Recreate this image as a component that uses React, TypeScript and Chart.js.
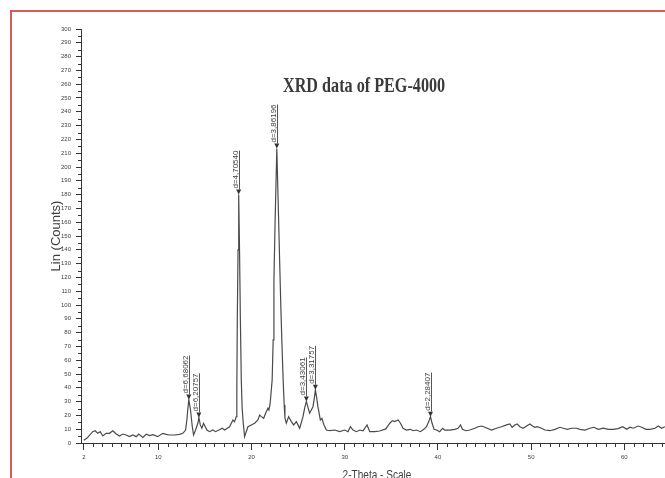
import React, { useEffect, useRef } from "react";
import { Chart, registerables } from "chart.js";

Chart.register(...registerables);

// ---- data ----
const twoTheta: number[] = [
  2.0, 2.32, 2.96, 3.22, 3.5, 3.76, 4.04, 4.4, 4.76, 5.11, 5.48, 5.83, 6.19, 6.55, 6.9, 7.26, 7.62, 7.9, 8.33, 8.7,
  9.05, 9.41, 9.94, 10.48, 10.84, 11.2, 11.73, 12.27, 12.63, 12.92, 13.06, 13.16, 13.27, 13.45, 13.64, 13.78, 13.99,
  14.24, 14.35, 14.5, 14.67, 14.85, 15.03, 15.21, 15.5, 15.85, 16.14, 16.49, 16.86, 17.11, 17.64, 18.0, 18.18, 18.36,
  18.42, 18.47, 18.55, 18.62, 18.71, 18.8, 18.9, 18.99, 19.1, 19.25, 19.43, 19.61, 19.97, 20.33, 20.68, 20.87, 21.05,
  21.3, 21.51, 21.76, 21.86, 21.99, 22.21, 22.32, 22.4, 22.53, 22.71, 22.85, 23.01, 23.15, 23.28, 23.39, 23.5, 23.58,
  23.73, 23.98, 24.27, 24.52, 24.81, 25.16, 25.52, 25.7, 25.88, 26.07, 26.23, 26.59, 26.74, 26.85, 26.99, 27.12, 27.38,
  27.55, 27.77, 28.03, 28.38, 28.92, 29.46, 29.99, 30.35, 30.61, 30.89, 31.25, 31.61, 31.96, 32.39, 32.68, 33.22, 33.75,
  34.4, 34.83, 35.12, 35.36, 35.72, 35.98, 36.25, 36.62, 37.05, 37.33, 37.69, 38.12, 38.48, 38.77, 39.01, 39.2, 39.37,
  39.58, 39.84, 40.19, 40.49, 40.73, 41.27, 41.81, 42.16, 42.42, 42.63, 42.99, 43.42, 43.95, 44.31, 44.67, 45.03, 45.75,
  46.29, 46.82, 47.36, 47.71, 47.96, 48.25, 48.5, 48.79, 49.14, 49.51, 49.86, 50.15, 50.4, 50.64, 51.12, 51.47, 52.01,
  52.55, 53.08, 53.44, 53.87, 54.34, 54.88, 55.23, 55.77, 56.3, 56.73, 57.2, 57.73, 58.27, 58.81, 59.34, 59.82, 60.25,
  60.6, 60.96, 61.49, 61.86, 62.32, 62.75, 63.29, 63.64, 64.0, 64.36,
];
const counts: number[] = [
  2.0, 3.4, 8.2, 8.9, 7.0, 8.2, 5.1, 7.0, 7.0, 8.9, 6.5, 5.1, 6.5, 5.8, 4.6, 5.8, 4.6, 6.5, 4.1, 6.3,
  5.4, 6.0, 4.6, 7.0, 6.3, 5.8, 5.8, 6.3, 7.0, 9.4, 16.7, 24.5, 31.5, 23.9, 11.8, 5.8, 9.4,
  14.3, 18.5, 13.1, 10.7, 14.3, 11.8, 9.4, 8.2, 9.4, 8.2, 9.4, 10.7, 9.4, 11.8, 16.7, 15.5, 19.1,
  38.5, 89.3, 140, 180, 140, 89.3, 45.7, 25.4, 15.2, 4.6, 8.2, 11.8, 13.1, 14.3, 16.7, 20.3, 19.1,
  17.9, 21.6, 25.2, 23.9, 28.3, 45.7, 74.7, 118.3, 161.8, 213.4, 176.3, 132.8, 96.5, 67.5, 45.7, 27.6, 18.1,
  14.3, 19.1, 15.5, 13.1, 15.5, 10.7, 19.1, 25.4, 30.1, 25.4, 21.6, 26.3, 32.7, 38.5, 32.7, 26.3, 16.7,
  17.9, 13.1, 9.4, 8.9, 9.4, 8.2, 9.4, 8.2, 11.8, 9.4, 8.2, 9.4, 8.9, 13.1, 8.2, 8.2, 8.7,
  10.2, 14.3, 16.2, 15.5, 16.7, 14.3, 10.7, 9.4, 9.9, 8.9, 9.4, 8.2, 9.9, 11.8, 15.5, 19.1, 14.3,
  9.9, 9.4, 8.2, 10.7, 9.4, 9.4, 9.9, 10.7, 13.1, 9.9, 8.9, 9.4, 10.7, 11.8, 12.3, 11.4, 9.4,
  10.7, 11.8, 13.1, 13.8, 11.4, 13.1, 13.8, 11.8, 10.7, 12.3, 13.8, 12.3, 11.4, 11.8, 10.7, 9.4, 8.9,
  9.9, 11.4, 10.7, 9.9, 10.7, 10.7, 9.9, 9.4, 10.7, 11.4, 9.9, 10.7, 9.9, 9.9, 10.4, 11.8, 9.9,
  11.4, 10.7, 12.3, 11.4, 9.9, 9.9, 10.7, 12.3, 10.7, 11.8,
];

const peakLabels: string[] = ["d=6,68062", "d=6,20757", "d=4,70540", "d=3,86196", "d=3,43061", "d=3,31757", "d=2,28407"];
const peakTheta: number[] = [13.27, 14.35, 18.62, 22.71, 25.88, 26.85, 39.2];
const peakCounts: number[] = [31.5, 18.5, 180, 213.4, 30.1, 38.5, 19.1];

const xTickValues: number[] = [2, 10, 20, 30, 40, 50, 60];
const yTickValues: number[] = Array.from({ length: 31 }, (_, i) => i * 10);

const TITLE = "XRD data of PEG-4000";
const Y_TITLE = "Lin (Counts)";
const X_TITLE = "2-Theta - Scale";

const X_MIN = 1.7;
const X_MAX = 64.36;
const AXIS = "#333333";
const TEXT = "#3e3e3e";

const overlay = {
  id: "overlay",
  afterDatasetsDraw(chart: any) {
    const { ctx, chartArea } = chart;
    const x = chart.scales.x;
    const y = chart.scales.y;
    ctx.save();
    ctx.strokeStyle = AXIS;
    ctx.lineWidth = 1;
    // minor ticks
    ctx.beginPath();
    for (let v = 3; v <= X_MAX; v += 1) {
      if (v % 10 === 0) continue;
      const px = Math.round(x.getPixelForValue(v)) + 0.5;
      ctx.moveTo(px, chartArea.bottom);
      ctx.lineTo(px, chartArea.bottom + 4);
    }
    for (let v = 5; v < 300; v += 10) {
      const py = Math.round(y.getPixelForValue(v)) + 0.5;
      ctx.moveTo(chartArea.left, py);
      ctx.lineTo(chartArea.left - 3, py);
    }
    ctx.stroke();

    // peak markers
    ctx.font = '8px "Liberation Sans", Arial, sans-serif';
    peakTheta.forEach((t, i) => {
      const px = x.getPixelForValue(t);
      const py = y.getPixelForValue(peakCounts[i]);
      ctx.fillStyle = "#333";
      ctx.beginPath();
      ctx.moveTo(px - 2.5, py - 5);
      ctx.lineTo(px + 2.5, py - 5);
      ctx.lineTo(px, py);
      ctx.closePath();
      ctx.fill();
      const w = ctx.measureText(peakLabels[i]).width;
      ctx.strokeStyle = "#555";
      ctx.beginPath();
      ctx.moveTo(Math.round(px) + 0.5, py - 5);
      ctx.lineTo(Math.round(px) + 0.5, py - 6 - w);
      ctx.stroke();
      ctx.save();
      ctx.translate(px - 1, py - 6);
      ctx.rotate(-Math.PI / 2);
      ctx.fillStyle = TEXT;
      ctx.textAlign = "left";
      ctx.textBaseline = "alphabetic";
      ctx.fillText(peakLabels[i], 0, 0);
      ctx.restore();
    });

    // chart title (inside plot area)
    ctx.save();
    ctx.fillStyle = "#3a3a3a";
    ctx.font = 'bold 21px "Liberation Serif", "Times New Roman", serif';
    ctx.translate(283, 91.5);
    ctx.scale(0.77, 1);
    ctx.textAlign = "left";
    ctx.textBaseline = "alphabetic";
    ctx.fillText(TITLE, 0, 0);
    ctx.restore();

    // y title
    ctx.save();
    ctx.fillStyle = TEXT;
    ctx.font = '13px "Liberation Sans", Arial, sans-serif';
    ctx.translate(59.5, 236);
    ctx.rotate(-Math.PI / 2);
    ctx.textAlign = "center";
    ctx.textBaseline = "alphabetic";
    ctx.fillText(Y_TITLE, 0, 0);
    ctx.restore();

    // x title
    ctx.save();
    ctx.fillStyle = TEXT;
    ctx.font = '12px "Liberation Sans", Arial, sans-serif';
    ctx.translate(377, 479);
    ctx.scale(0.84, 1);
    ctx.textAlign = "center";
    ctx.textBaseline = "alphabetic";
    ctx.fillText(X_TITLE, 0, 0);
    ctx.restore();

    ctx.restore();
  },
};

export default function App() {
  const ref = useRef<HTMLCanvasElement | null>(null);
  useEffect(() => {
    if (!ref.current) return;
    const chart = new Chart(ref.current, {
      type: "line",
      data: {
        datasets: [
          {
            data: twoTheta.map((t, i) => ({ x: t, y: counts[i] })),
            borderColor: "#4a4a4a",
            borderWidth: 1.2,
            pointRadius: 0,
            tension: 0,
            fill: false,
          },
        ],
      },
      options: {
        animation: false,
        responsive: false,
        devicePixelRatio: 1,
        layout: { padding: { top: 29, right: 0, bottom: 0, left: 0 } },
        plugins: { legend: { display: false }, tooltip: { enabled: false }, title: { display: false } },
        scales: {
          x: {
            type: "linear",
            min: X_MIN,
            max: X_MAX,
            afterBuildTicks: (s: any) => {
              s.ticks = xTickValues.map((v) => ({ value: v }));
            },
            afterFit: (s: any) => {
              s.height = 35;
            },
            grid: { display: true, drawOnChartArea: false, drawTicks: true, tickLength: 7, color: AXIS },
            border: { display: true, color: AXIS, width: 1 },
            ticks: {
              autoSkip: false,
              maxRotation: 0,
              padding: 4,
              color: TEXT,
              font: { size: 6, family: '"Liberation Sans", Arial, sans-serif' },
              callback: (v: any) => String(v),
            },
          },
          y: {
            type: "linear",
            min: 0,
            max: 300,
            afterBuildTicks: (s: any) => {
              s.ticks = yTickValues.map((v) => ({ value: v }));
            },
            afterFit: (s: any) => {
              s.width = 81;
            },
            grid: { display: true, drawOnChartArea: false, drawTicks: true, tickLength: 5, color: AXIS },
            border: { display: true, color: AXIS, width: 1 },
            ticks: {
              autoSkip: false,
              padding: 5,
              color: TEXT,
              font: { size: 6, family: '"Liberation Sans", Arial, sans-serif' },
              callback: (v: any) => String(v),
            },
          },
        },
      },
      plugins: [overlay],
    });
    return () => chart.destroy();
  }, []);

  return (
    <div style={{ position: "fixed", left: 0, top: 0, width: 665, height: 478, overflow: "hidden", background: "#ffffff" }}>
      <div
        style={{
          position: "absolute",
          left: 10,
          top: 10,
          width: 720,
          height: 540,
          border: "2px solid #d65c5c",
          boxSizing: "border-box",
        }}
      />
      <canvas ref={ref} width={665} height={478} style={{ position: "absolute", left: 0, top: 0, width: 665, height: 478 }} />
    </div>
  );
}
